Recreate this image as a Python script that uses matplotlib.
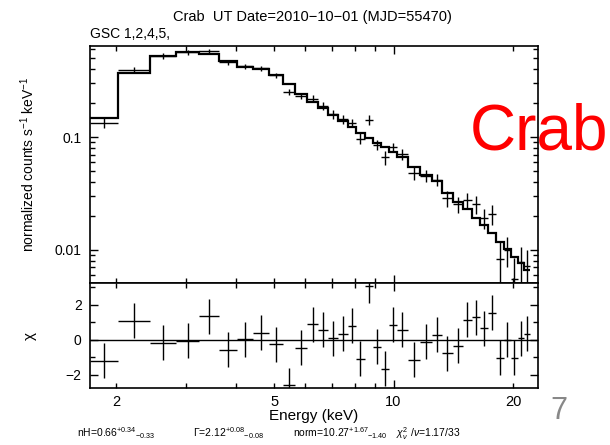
import numpy as np
import matplotlib
matplotlib.use("Agg")
from matplotlib import pyplot as plt
from matplotlib.ticker import LogLocator, FixedLocator, NullFormatter, FixedFormatter

plt.rcParams['font.family'] = ['Liberation Sans', 'DejaVu Sans']
plt.rcParams['mathtext.fontset'] = 'custom'
plt.rcParams['mathtext.rm'] = 'Liberation Sans'
plt.rcParams['mathtext.it'] = 'Liberation Sans:italic'
plt.rcParams['axes.unicode_minus'] = True

# energy bin edges (keV)
edges = [1.72, 2.02, 2.44, 2.83, 3.24, 3.63, 4.04, 4.43, 4.86, 5.27, 5.65, 6.06,
         6.46, 6.84, 7.25, 7.66, 8.05, 8.45, 8.88, 9.30, 9.72, 10.18, 10.85, 11.67,
         12.47, 13.25, 14.08, 14.92, 15.72, 16.52, 17.30, 18.12, 18.93, 19.71,
         20.52, 21.32, 22.08]

# data points (normalized counts s^-1 keV^-1) and 1-sigma errors
rate = [0.134, 0.392, 0.520, 0.563, 0.578, 0.460, 0.422, 0.405, 0.354, 0.252,
        0.232, 0.219, 0.1886, 0.159, 0.1444, 0.1336, 0.097, 0.142, 0.0854, 0.066,
        0.081, 0.0703, 0.0478, 0.0455, 0.042, 0.0287, 0.0254, 0.0277, 0.0254, 0.0192,
        0.0208, 0.0084, 0.0101, 0.0055, 0.0079, 0.0072]
rate_err = [0.0125, 0.024, 0.030, 0.030, 0.028, 0.025, 0.022, 0.020, 0.018, 0.016,
            0.016, 0.016, 0.015, 0.014, 0.013, 0.012, 0.011, 0.014, 0.009, 0.009,
            0.008, 0.0075, 0.006, 0.0055, 0.005, 0.0045, 0.004, 0.004, 0.0047, 0.0038,
            0.0042, 0.0036, 0.003, 0.003, 0.0028, 0.0027]

# folded model
model = [0.149, 0.366, 0.526, 0.565, 0.540, 0.474, 0.421, 0.397, 0.358, 0.294,
         0.239, 0.205, 0.180, 0.158, 0.140, 0.124, 0.109, 0.0986, 0.089, 0.081,
         0.074, 0.066, 0.0546, 0.046, 0.0405, 0.0321, 0.0267, 0.0231, 0.0193, 0.0166,
         0.0142, 0.0118, 0.0102, 0.0086, 0.0076, 0.0066]

# residuals (chi)
chi = [-1.2, 1.1, -0.15, -0.05, 1.35, -0.55, 0.05, 0.4, -0.25, -2.6,
       -0.45, 0.9, 0.57, 0.1, 0.34, 0.8, -1.09, 3.1, -0.4, -1.66,
       0.86, 0.57, -1.14, -0.1, 0.29, -0.76, -0.33, 1.14, 1.3, 0.68,
       1.56, -1.03, 0.0, -1.03, 0.1, 0.34]

edges = np.array(edges)
emid = np.sqrt(edges[:-1] * edges[1:])
xerr = [emid - edges[:-1], edges[1:] - emid]

fig = plt.figure(figsize=(6.1, 4.45), dpi=100)
ax1 = fig.add_axes([0.1475, 0.364, 0.7344, 0.5326])
ax2 = fig.add_axes([0.1475, 0.128, 0.7344, 0.236], sharex=ax1)

ax1.stairs(model, edges, baseline=None, color='k', lw=1.6)
ax1.errorbar(emid, rate, xerr=xerr, yerr=rate_err, fmt='none', ecolor='k', elinewidth=1.0)
ax1.set_xscale('log')
ax1.set_yscale('log')
ax1.set_xlim(1.72, 23.1)
ax1.set_ylim(0.0051, 0.64)

ax2.errorbar(emid, chi, xerr=xerr, yerr=1.0, fmt='none', ecolor='k', elinewidth=1.0)
ax2.axhline(0, color='k', lw=1.0)
ax2.set_ylim(-2.75, 3.25)

for ax in (ax1, ax2):
    for s in ax.spines.values():
        s.set_linewidth(1.2)
    ax.tick_params(which='both', direction='in', top=True, right=True, width=1.0, labelsize=10)
    ax.tick_params(which='major', length=6)
    ax.tick_params(which='minor', length=3.5)

ax2.xaxis.set_major_locator(FixedLocator([10]))
ax2.xaxis.set_minor_locator(FixedLocator([2, 3, 4, 5, 6, 7, 8, 9, 20]))
ax2.xaxis.set_major_formatter(FixedFormatter(['10']))
ax2.xaxis.set_minor_formatter(FixedFormatter(['2', '', '', '5', '', '', '', '', '20']))
ax2.tick_params(axis='x', which='both', pad=5, labelsize=10.5)
plt.setp(ax1.get_xticklabels(which='both'), visible=False)

ax1.yaxis.set_major_locator(LogLocator(base=10, numticks=10))
ax1.yaxis.set_minor_locator(LogLocator(base=10, subs=np.arange(2, 10), numticks=20))
ax1.yaxis.set_minor_formatter(NullFormatter())
ax1.set_yticks([0.01, 0.1])
ax1.set_yticklabels(['0.01', '0.1'])
ax1.tick_params(axis='y', pad=6)

ax2.yaxis.set_major_locator(FixedLocator([-2, 0, 2]))
ax2.yaxis.set_minor_locator(FixedLocator([-1, 1, 3]))
ax2.set_yticklabels(['\u22122', '0', '2'])
ax2.tick_params(axis='y', pad=6)

ax1.set_ylabel('normalized counts s$^{-1}$ keV$^{-1}$', fontsize=10)
ax1.yaxis.set_label_coords(-0.118, 0.5)
ax2.set_ylabel('\u03c7', fontsize=11)
ax2.yaxis.set_label_coords(-0.118, 0.5)
ax2.set_xlabel('Energy (keV)', fontsize=11, labelpad=0)

fig.text(0.513, 0.962, 'Crab  UT Date=2010\u221210\u221201 (MJD=55470)', ha='center', va='center', fontsize=10.5)
fig.text(0.1475, 0.924, 'GSC 1,2,4,5,', ha='left', va='center', fontsize=10)

fig.text(0.126, 0.018, 'nH=0.66$^{+0.34}$$_{\u22120.33}$', fontsize=7.5)
fig.text(0.316, 0.018, '\u0393=2.12$^{+0.08}$$_{\u22120.08}$', fontsize=7.5)
fig.text(0.480, 0.018, 'norm=10.27$^{+1.67}$$_{\u22121.40}$', fontsize=7.5)
fig.text(0.650, 0.018, '$\\chi^2_\\nu$ /$\\nu$=1.17/33', fontsize=7.5)

fig.text(0.770, 0.663, 'Crab', color='red', fontsize=46, ha='left', va='baseline')
fig.text(0.902, 0.058, '7', color='#888888', fontsize=22, ha='left', va='baseline')

fig.savefig('out.png', dpi=100)
